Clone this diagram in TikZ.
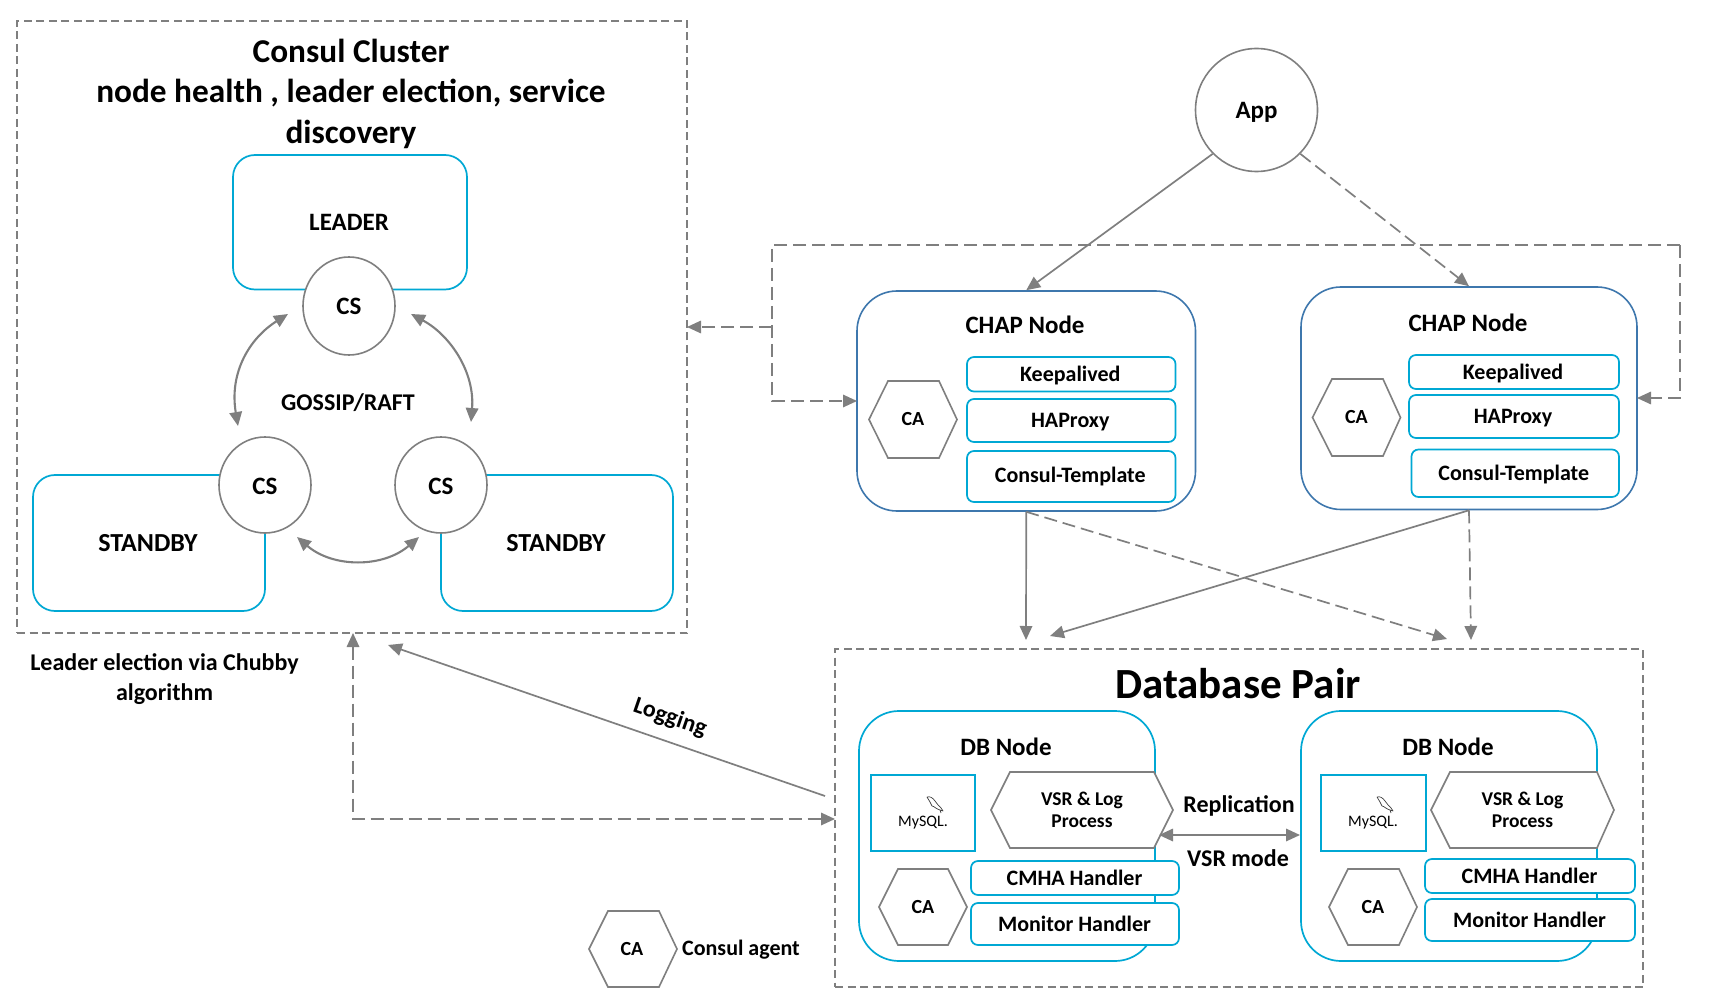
\documentclass[tikz,border=0pt]{standalone}
\usepackage{fontspec}
\setmainfont{Carlito}
\usetikzlibrary{arrows.meta,shapes.geometric}
\definecolor{cy}{HTML}{00A8D4}
\definecolor{nv}{HTML}{3E77AD}
\definecolor{gr}{HTML}{7F7F7F}
\newcommand\fs[1]{\fontsize{#1}{#1}\selectfont\bfseries}
\newcommand\vf{\fontsize{19.5}{22.7}\selectfont\bfseries}
\newcommand\dn[2]{\raisebox{-#1}[\height][\depth]{#2}}
\newcommand\lw[1]{\dn{1.2pt}{\fs{22}#1}}
% name, x1, y1, x2, y2, style, text
\newcommand\bx[7]{%
  \pgfmathsetmacro\bxw{#4-(#2)}\pgfmathsetmacro\bxh{#5-(#3)}%
  \pgfmathsetmacro\bxcx{(#2+#4)/2}\pgfmathsetmacro\bxcy{(#3+#5)/2}%
  \node[#6,minimum width=\bxw pt,minimum height=\bxh pt,inner sep=0pt] (#1) at (\bxcx,\bxcy) {#7};}
% name, left, cornerL, cornerR, right, top, bottom, text
\newcommand\hx[8]{%
  \pgfmathsetmacro\hxm{(#6+#7)/2}\pgfmathsetmacro\hxc{(#2+#5)/2}%
  \draw[hexline] (#2,\hxm) -- (#3,#6) -- (#4,#6) -- (#5,\hxm) -- (#4,#7) -- (#3,#7) -- cycle;
  \node[inner sep=0pt,align=center] (#1) at (\hxc,\hxm) {#8};}
% dolphin at origin given in px offsets
\newcommand\dolphin[2]{%
  \draw[black!75,line width=.7pt,line join=round,x=1pt,y=-1pt,shift={(#1 pt,-#2 pt)}]
   (0,0) .. controls (3,-1) and (6,1) .. (8,4) .. controls (10,7) and (12,9) .. (14,11)
   -- (16,14) -- (13,13) -- (14,16)
   (13,13) .. controls (9,12) and (7,9) .. (5,9) -- (3,5) -- (0,0);}
\tikzset{
  >={Triangle[length=14pt,width=12.5pt]},
  hexline/.style={draw=gr,line width=1.6pt,fill=white},
  cyanbox/.style={draw=cy,line width=1.7pt,fill=white,rectangle,rounded corners=#1},
  cyanbox/.default=7pt,
  navybox/.style={draw=nv,line width=1.6pt,fill=white,rectangle,rounded corners=40pt},
  sqbox/.style={draw=cy,line width=1.7pt,fill=white,rectangle},
  region/.style={draw=gr,line width=1.4pt,dash pattern=on 8pt off 4.5pt,rectangle},
  csnode/.style={ellipse,draw=gr,line width=1.6pt,fill=white,inner sep=0pt},
  conn/.style={draw=gr,line width=1.7pt,->},
  dconn/.style={draw=gr,line width=1.7pt,dash pattern=on 13pt off 6pt,->},
  curve/.style={draw=gr,line width=2.1pt,<->},
}
\begin{document}
\begin{tikzpicture}[x=1pt,y=-1pt]
\useasboundingbox (0,0) rectangle (1722,1008);
% ---- regions
\bx{consul}{17}{21}{687}{633}{region}{}
\bx{dbpair}{835}{649}{1643}{987}{region}{}
% ---- titles
\node[align=center,inner sep=0pt,font={\fontsize{33.3}{40.5}\selectfont\bfseries}] (ctitle) at (351,93.5) {Consul Cluster\\node health , leader election, service\\discovery};
\node[inner sep=0pt] (dbtitle) at (1238,684) {\fs{43}Database Pair};
% ---- consul boxes
\bx{leader}{233}{155}{467}{289.5}{cyanbox=22pt}{}
\node[inner sep=0pt] at (349,222) {\fs{25}LEADER};
\bx{stbyl}{33}{475}{265}{611}{cyanbox=22pt}{}
\node[inner sep=0pt] at (148,543) {\fs{26}STANDBY};
\bx{stbyr}{441}{475}{673}{611}{cyanbox=22pt}{}
\node[inner sep=0pt] at (556,543) {\fs{26}STANDBY};
\node[csnode,minimum width=92pt,minimum height=98pt] (csa) at (349,306) {\fs{25}CS};
\node[csnode,minimum width=92pt,minimum height=96pt] (csb) at (265,485) {\dn{1pt}{\fs{25}CS}};
\node[csnode,minimum width=92pt,minimum height=96pt] (csc) at (441,485) {\dn{1pt}{\fs{25}CS}};
\node[inner sep=0pt] at (348,403) {\fs{24}GOSSIP/RAFT};
\coordinate (c1) at (288,314); \coordinate (c2) at (238,426);
\coordinate (c3) at (411,314); \coordinate (c4) at (471,422);
\coordinate (c5) at (297,537); \coordinate (c6) at (419,537);
\draw[curve] (c1) .. controls (250,338) and (229,372) .. (c2);
\draw[curve] (c3) .. controls (450,335) and (475,372) .. (c4);
\draw[curve] (c5) .. controls (333,568) and (383,568) .. (c6);
\node[align=center,inner sep=0pt,font={\fontsize{24}{30}\selectfont\bfseries}] (ltxt) at (164.5,679) {Leader election via Chubby\\algorithm};
% ---- App
\node[csnode,minimum width=122pt,minimum height=123pt] (app) at (1256.5,110) {\dn{2pt}{\fs{25}App}};
% ---- CHAP 1
\bx{chapa}{857}{291}{1195.5}{511}{navybox}{}
\node[inner sep=0pt] at (1025,325) {\fs{25}CHAP Node};
\bx{keepa}{967}{357}{1175.5}{391.5}{cyanbox}{\hspace{-2pt}\lw{Keepalived}}
\bx{hapa}{967}{399}{1175.5}{442}{cyanbox}{\hspace{-2pt}\lw{HAProxy}}
\bx{tmpa}{967}{451}{1175.5}{502}{cyanbox}{\hspace{-2pt}\fs{22}Consul-Template}
\hx{caa}{869}{888}{939}{957}{381}{458}{\fs{20}CA}
% ---- CHAP 2
\bx{chapb}{1301}{287}{1637}{509.5}{navybox}{}
\node[inner sep=0pt] at (1468,323) {\fs{25}CHAP Node};
\bx{keepb}{1409}{355}{1619}{389}{cyanbox}{\hspace{-2pt}\lw{Keepalived}}
\bx{hapb}{1409}{395}{1619}{438}{cyanbox}{\hspace{-2pt}\lw{HAProxy}}
\bx{tmpb}{1411.5}{449.5}{1619}{497}{cyanbox}{\hspace{-3pt}\lw{Consul-Template}}
\hx{cab}{1312.5}{1332}{1383}{1400.5}{379}{456}{\fs{20}CA}
% ---- DB node 1
\bx{dba}{859}{711}{1155}{961}{cyanbox=40pt}{}
\node[inner sep=0pt] at (1006,747) {\fs{25}DB Node};
\bx{mya}{871}{775}{975}{851}{sqbox}{}
\node[inner sep=0pt] (mytxta) at (923,823) {\fontsize{16}{16}\selectfont MySQL.};
\dolphin{927}{797}
\hx{vsra}{991}{1010}{1154}{1173}{772}{848}{\vf VSR \& Log\\[5.5pt]\vf Process}
\bx{cmha}{971}{861}{1179}{895}{cyanbox}{\hspace{-1pt}\fs{22}CMHA Handler}
\bx{mona}{971}{903}{1179}{945}{cyanbox}{\hspace{-1pt}\fs{22}Monitor Handler}
\hx{dcaa}{879}{898}{948}{967}{869}{945}{\fs{20}CA}
% ---- DB node 2
\bx{dbb}{1301}{711}{1597}{961}{cyanbox=40pt}{}
\node[inner sep=0pt] at (1448,747) {\fs{25}DB Node};
\bx{myb}{1321}{775}{1426}{851}{sqbox}{}
\node[inner sep=0pt] (mytxtb) at (1373,823) {\fontsize{16}{16}\selectfont MySQL.};
\dolphin{1377}{797}
\hx{vsrb}{1431}{1450}{1597}{1614}{772}{848}{\vf VSR \& Log\\[5.5pt]\vf Process}
\bx{cmhb}{1425}{859}{1635}{893}{cyanbox}{\hspace{-1pt}\fs{22}CMHA Handler}
\bx{monb}{1425}{899}{1635}{941}{cyanbox}{\hspace{-1pt}\fs{22}Monitor Handler}
\hx{dcab}{1329}{1348}{1399}{1417}{869}{945}{\fs{20}CA}
% ---- replication
\coordinate (repa) at (1159,835); \coordinate (repb) at (1300,835);
\draw[conn,<->] (repa) -- (repb);
\node[inner sep=0pt] at (1239,806) {\fs{24}Replication};
\node[inner sep=0pt] at (1238,858) {\fs{24}VSR mode};
% ---- legend
\hx{lca}{589}{608}{659}{677}{911}{987}{\hspace{-2pt}\fs{20}CA}
\node[inner sep=0pt] at (741,950) {\fs{22}Consul agent};
% ---- connectors
\coordinate (d1) at (1026,640); \coordinate (d2) at (1050,636);
\coordinate (d3) at (1447,639); \coordinate (d4) at (1471,640);
\draw[conn] (app.225) -- (chapa.north);
\draw[dconn] (app.-45) -- (chapb.north);
\draw[conn] (chapa.south) -- (d1);
\draw[dconn] (chapa.south) -- (d3);
\draw[conn] (chapb.south) -- (d2);
\draw[dconn] (chapb.south) -- (d4);
\coordinate (lp1) at (772,245); \coordinate (lp2) at (1680,245);
\coordinate (lp3) at (772,401); \coordinate (lp4) at (1680,398);
\coordinate (lp5) at (772,327);
\coordinate (tochap1) at (857,401); \coordinate (tochap2) at (1637,398);
\coordinate (toconsul) at (687,327);
\draw[dconn] (lp5) -- (toconsul);
\draw[dconn] (lp2) -- (lp1) -- (lp3) -- (tochap1);
\draw[dconn] (lp2) -- (lp4) -- (tochap2);
\coordinate (up1) at (353,633); \coordinate (corner) at (353,819); \coordinate (dbin) at (835,819);
\draw[dconn,<->] (up1) -- (corner) -- (dbin);
\coordinate (logs) at (825,796); \coordinate (loge) at (388,645);
\draw[conn] (logs) -- (loge);
\node[rotate=-19,inner sep=0pt] at (670,718) {\fs{24}Logging};
\end{tikzpicture}
\end{document}
